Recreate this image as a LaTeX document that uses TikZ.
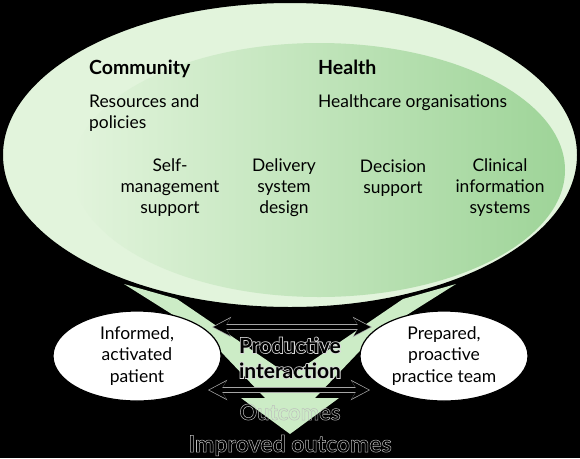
\documentclass[tikz,border=0pt]{standalone}
\usepackage{fontspec}
\setmainfont{Lato}
\usetikzlibrary{arrows.meta,shapes.geometric}
\definecolor{outerG}{RGB}{226,244,220}
\definecolor{midG}{RGB}{206,235,200}
\definecolor{darkG}{RGB}{158,212,152}
\definecolor{funnelG}{RGB}{204,236,198}
\definecolor{rimG}{RGB}{165,165,165}
\newcommand{\strokeonly}[1]{\special{pdf:literal direct 1 Tr 0.5 w 0.74 0.74 0.74 RG}#1\special{pdf:literal direct 0 Tr}}
\newcommand{\haloed}[1]{\makebox[0pt][l]{\special{pdf:literal direct 1 Tr 1.5 w 0.85 0.85 0.85 RG}#1\special{pdf:literal direct 0 Tr}}#1}
\begin{document}
\begin{tikzpicture}[x=1pt,y=-1pt,
  lbl/.style={font=\fontsize{17.4}{20.6}\selectfont, inner sep=0pt, align=center, text=black},
  lblL/.style={lbl, align=left},
  headlbl/.style={font=\fontsize{19.5}{23}\selectfont\bfseries, inner sep=0pt, text=black},
  wellipse/.style={ellipse, fill=white, draw=black, line width=1.2pt, inner sep=0pt,
     minimum width=168pt, minimum height=90pt, align=center,
     font=\fontsize{17.5}{21.5}\selectfont},
  rimarrow/.style={draw=rimG, line width=6pt,
     {Stealth[length=19pt,width=20pt,inset=6pt]}-{Stealth[length=19pt,width=20pt,inset=6pt]}},
  corearrow/.style={draw=black, line width=4pt, shorten <=1.4pt, shorten >=1.4pt,
     {Stealth[length=16.5pt,width=17pt,inset=5pt]}-{Stealth[length=16.5pt,width=17pt,inset=5pt]}},
]
\useasboundingbox (0,0) rectangle (580,458);
\fill[black] (0,0) rectangle (580,458);

% funnel (V-shaped arrow)
\coordinate (f1) at (124,284);
\coordinate (f2) at (177,299);
\coordinate (f3) at (290,376);
\coordinate (f4) at (403,299);
\coordinate (f5) at (456,284);
\coordinate (f6) at (375,335);
\coordinate (f7) at (315,398);
\coordinate (f8) at (339,398);
\coordinate (f9) at (290,434);
\coordinate (f10) at (241,398);
\coordinate (f11) at (265,398);
\coordinate (f12) at (205,335);
\fill[funnelG] (f1) -- (f2) -- (f3) -- (f4) -- (f5) -- (f6) -- (f7) -- (f8) -- (f9) -- (f10) -- (f11) -- (f12) -- cycle;

% big ellipse
\filldraw[fill=outerG, draw=black, line width=2pt] (290,155) ellipse [x radius=288, y radius=153];
\shade[left color=outerG, middle color=midG, right color=darkG] (319,170) ellipse [x radius=246, y radius=127];

% texts in the big ellipse (base anchor = last line)
\node[headlbl, anchor=base west] (comm) at (89,74) {Community};
\node[headlbl, anchor=base west] (health) at (318,74) {Health};
\node[lblL, anchor=base west] (res) at (89,128) {Resources and\\policies};
\node[lbl, anchor=base west] (org) at (318,107) {Healthcare organisations};
\node[lbl, anchor=base] (self) at (170,213) {Self-\\management\\support};
\node[lbl, anchor=base] (deliv) at (284,213) {Delivery\\system\\design};
\node[lbl, anchor=base] (decis) at (393,193) {Decision\\support};
\node[lbl, anchor=base] (clin) at (500,213) {Clinical\\information\\systems};

% lower ellipses
\node[wellipse] (pat) at (137,356) {Informed,\\activated\\patient};
\node[wellipse] (team) at (444,356) {Prepared,\\proactive\\practice team};

% double arrows
\coordinate (a1) at (212,327);
\coordinate (a2) at (372,327);
\coordinate (b1) at (208,390);
\coordinate (b2) at (370,390);
\draw[rimarrow] (a1) -- (a2);
\draw[corearrow] (a1) -- (a2);
\draw[rimarrow] (b1) -- (b2);
\draw[corearrow] (b1) -- (b2);

% centre texts
\node[font=\fontsize{21}{25}\selectfont\bfseries, inner sep=0pt, align=center, text=black, anchor=base] (prod) at (290,378) {\haloed{Productive}\\\haloed{interaction}};
\node[font=\fontsize{22}{26}\selectfont\bfseries, inner sep=0pt, text=black, anchor=base] (outc) at (290,420) {\strokeonly{Outcomes}};
\node[font=\fontsize{23}{27}\selectfont\bfseries, inner sep=0pt, text=black, anchor=base] (impr) at (290,452) {\strokeonly{Improved outcomes}};
\end{tikzpicture}
\end{document}
